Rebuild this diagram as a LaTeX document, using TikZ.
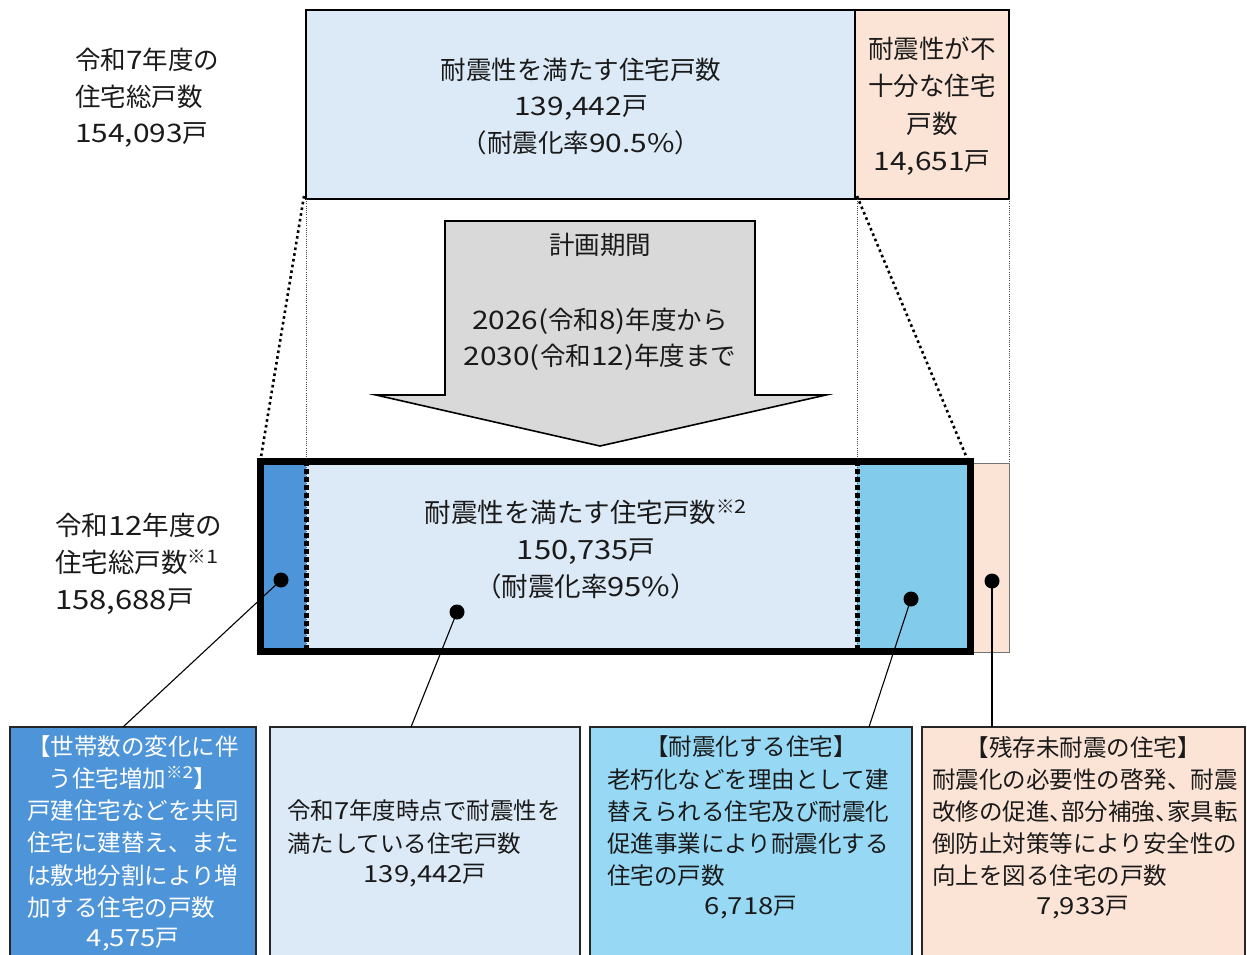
\documentclass[tikz,border=0pt]{standalone}
\usepackage{fontspec}
\setmainfont{Noto Sans CJK JP}
\newfontfamily\lat[FakeStretch=1.17]{Noto Sans CJK JP}
\newcommand\nm[1]{{\lat #1}}
\newcommand\htou{\makebox[0.5em][l]{、}}
\newcommand\fA{\fontsize{25.5}{36.5}\selectfont}
\newcommand\fP{\fontsize{25.5}{37.5}\selectfont}
\newcommand\fB{\fontsize{26.5}{37}\selectfont}
\newcommand\fC{\fontsize{23.5}{32.2}\selectfont}
\definecolor{ltblue}{HTML}{DCE9F6}
\definecolor{pinkc}{HTML}{FBE4D6}
\definecolor{midblue}{HTML}{4E94D8}
\definecolor{skyblue}{HTML}{83CBEB}
\definecolor{cyanbox}{HTML}{97D9F5}
\definecolor{grayarr}{HTML}{D9D9D9}
\definecolor{txtc}{HTML}{1A1A1A}
\begin{document}
\begin{tikzpicture}[x=1pt,y=-1pt,
  rbox/.style={rectangle, anchor=north west, inner sep=0pt, outer sep=0pt},
  topbox/.style={rbox, draw=black, line width=2pt},
  lowbox/.style={rbox, draw=black!85, line width=1.8pt},
  seg/.style={rbox},
  txt/.style={inner sep=0pt, text=txtc},
  thindot/.style={draw=black!70, line width=0.8pt, dash pattern=on 1pt off 1.2pt},
  bigdot/.style={draw=black, line width=2.6pt, dash pattern=on 2.6pt off 3.2pt},
  divider/.style={draw=black, line width=5pt, dash pattern=on 5pt off 3pt},
  blob/.style={circle, fill=black, inner sep=0pt, minimum size=15pt},
  lead/.style={draw=black, line width=1.1pt}
]
\useasboundingbox (0,0) rectangle (1247,954);
\clip (0,0) rectangle (1247,954);

% ---------- top row ----------
\node[txt, font=\fA, align=left, anchor=west] (lab7) at (75,98)
  {令和\nm{7}年度の\\住宅総戸数\\\nm{154,093}戸};

\node[topbox, fill=ltblue, minimum width=549pt, minimum height=189pt] (topA) at (306,10) {};
\node[topbox, fill=pinkc, minimum width=154pt, minimum height=189pt] (topB) at (855,10) {};
\node[txt, font=\fA, align=center] (topAt) at (581,106)
  {耐震性を満たす住宅戸数\\\nm{139,442}戸\\（耐震化率\nm{90.5\%}）};
\node[txt, font=\fP, align=center] (topBt) at (932,106)
  {耐震性が不\\十分な住宅\\戸数\\\nm{14,651}戸};

% ---------- arrow ----------
\draw[fill=grayarr, draw=black, line width=1.6pt, line join=miter]
  (445,221) -- (755,221) -- (755,395) -- (826,395) -- (600,446)
  -- (376,395) -- (445,395) -- cycle;
\node[txt, font=\fA] (plan) at (600,245) {計画期間};
\node[txt, font=\fA, align=center] (period) at (600,339)
  {\nm{2026(}令和\nm{8)}年度から\\\nm{2030(}令和\nm{12)}年度まで};

% ---------- bottom bar ----------
\node[seg, fill=midblue, minimum width=46pt, minimum height=190pt] (segL) at (260,461) {};
\node[seg, fill=ltblue, minimum width=551pt, minimum height=190pt] (segM) at (306,461) {};
\node[seg, fill=skyblue, minimum width=114pt, minimum height=190pt] (segR) at (857,461) {};
\node[rbox, draw=black!55, line width=1pt, fill=pinkc, minimum width=36pt, minimum height=189pt] (rest) at (973,463) {};

\coordinate (dvLtop) at (306,461);
\coordinate (dvLbot) at (306,651);
\coordinate (dvRtop) at (857,461);
\coordinate (dvRbot) at (857,651);

% thin guide lines
\draw[thindot] (topA.south west) -- (dvLbot);
\draw[thindot] (topB.south west) ++(2,0) coordinate (gR) (gR) -- (dvRbot);
\draw[thindot] (topB.south east) -- (rest.north east);

% dividers
\draw[divider] (dvLtop) -- (dvLbot);
\draw[divider] (dvRtop) -- (dvRbot);

% frame
\node[rbox, draw=black, line width=7pt, minimum width=710pt, minimum height=190pt] (big) at (260,461) {};

% slanted dotted lines
\draw[bigdot] ([xshift=-2pt,yshift=3pt]topA.south west) -- ([shift={(0pt,-2pt)}]big.north west);
\draw[bigdot] ([xshift=2pt,yshift=3pt]topB.south west) -- ([shift={(-1pt,-2pt)}]big.north east);

% texts of bar
\node[txt, font=\fB, align=left, anchor=west] (lab12) at (55,564)
  {令和\nm{12}年度の\\住宅総戸数\textsuperscript{※\nm{1}}\\\nm{158,688}戸};
\node[txt, font=\fB, align=center] (barT) at (586,549)
  {耐震性を満たす住宅戸数\textsuperscript{※\nm{2}}\\\nm{150,735}戸\\（耐震化率\nm{95\%}）};

% dots
\node[blob] (d1) at (281,580) {};
\node[blob] (d2) at (457,612) {};
\node[blob] (d3) at (911,599) {};
\node[blob] (d4) at (992,581) {};

% ---------- bottom boxes ----------
\node[lowbox, fill=midblue, minimum width=246pt, minimum height=260pt] (b1) at (10,727) {};
\node[lowbox, fill=ltblue, minimum width=310pt, minimum height=260pt] (b2) at (270,727) {};
\node[lowbox, fill=cyanbox, minimum width=322pt, minimum height=260pt] (b3) at (590,727) {};
\node[lowbox, fill=pinkc, minimum width=323pt, minimum height=260pt] (b4) at (922,727) {};

\coordinate (c1) at (123,727);
\coordinate (c2) at (411,727);
\coordinate (c3) at (869,727);
\coordinate (c4) at (992,727);
\draw[lead] (d1.center) -- (c1);
\draw[lead] (d2.center) -- (c2);
\draw[lead] (d3.center) -- (c3);
\draw[lead] (d4.center) -- (c4);

% box 1
\node[txt, text=white, font=\fC, align=center] (b1h) at (133,762.5)
  {【世帯数の変化に伴\\う住宅増加\textsuperscript{※\nm{2}}】};
\node[txt, text=white, font=\fC, align=left, anchor=west] (b1b) at (27,859)
  {戸建住宅などを共同\\住宅に建替え、また\\は敷地分割により増\\加する住宅の戸数};
\node[txt, text=white, font=\fC] (b1n) at (133,940) {\nm{4,575}戸};

% box 2
\node[txt, font=\fC, align=left, anchor=west] (b2b) at (287,827)
  {令和\nm{7}年度時点で耐震性を\\満たしている住宅戸数};
\node[txt, font=\fC] (b2n) at (425,876) {\nm{139,442}戸};

% box 3
\node[txt, font=\fC] (b3h) at (751,747) {【耐震化する住宅】};
\node[txt, font=\fC, align=left, anchor=west] (b3b) at (607,827.5)
  {老朽化などを理由として建\\替えられる住宅及び耐震化\\促進事業により耐震化する\\住宅の戸数};
\node[txt, font=\fC] (b3n) at (751,908) {\nm{6,718}戸};

% box 4
\node[txt, font=\fC] (b4h) at (1083,747) {【残存未耐震の住宅】};
\node[txt, font=\fC, align=left, anchor=west] (b4b) at (932,827.5)
  {耐震化の必要性の啓発、耐震\\改修の促進\htou 部分補強\htou 家具転\\倒防止対策等により安全性の\\向上を図る住宅の戸数};
\node[txt, font=\fC] (b4n) at (1083,908) {\nm{7,933}戸};
\end{tikzpicture}
\end{document}
